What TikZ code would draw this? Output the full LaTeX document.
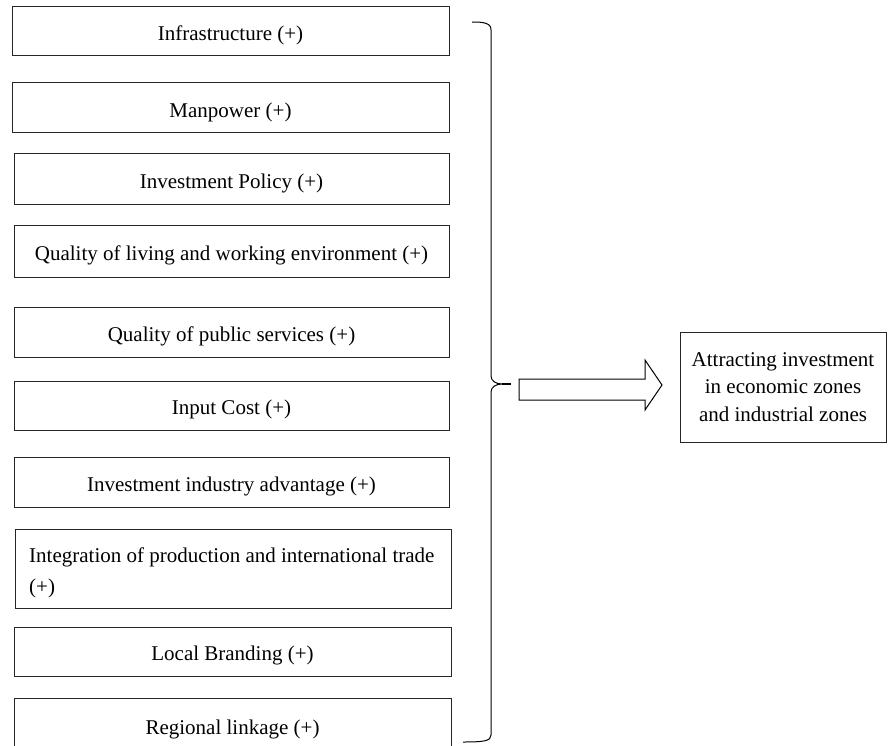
\documentclass[tikz,border=0pt]{standalone}
\usepackage{fontspec}
\setmainfont{Liberation Serif}
\begin{document}
\begin{tikzpicture}[x=1pt,y=-1pt,
  factor/.style={draw=black!85,line width=1pt,rectangle,inner sep=0pt,
    font=\fontsize{21}{26}\selectfont,align=center,text height=22pt,text depth=3.5pt},
  goalbox/.style={draw=black!85,line width=1pt,rectangle,inner sep=0pt,
    font=\fontsize{21}{27.5}\selectfont,align=center},
  lbl/.style={inner sep=0pt,font=\fontsize{21}{31}\selectfont},
  brc/.style={draw=black,line width=1pt}]
\useasboundingbox (0,0) rectangle (888,746);
\clip (0,0) rectangle (888,746);
% factor boxes
\node[factor,minimum width=437pt,minimum height=49pt] (b1) at (230.5,31.5) {Infrastructure (+)};
\node[factor,minimum width=437pt,minimum height=50pt] (b2) at (230.5,108) {Manpower (+)};
\node[factor,minimum width=435pt,minimum height=50pt] (b3) at (231.5,179) {Investment Policy (+)};
\node[factor,minimum width=435pt,minimum height=52pt] (b4) at (231.5,251) {Quality of living and working environment (+)};
\node[factor,minimum width=435pt,minimum height=50pt] (b5) at (231.5,332) {Quality of public services (+)};
\node[factor,minimum width=435pt,minimum height=49pt] (b6) at (231.5,405.5) {Input Cost (+)};
\node[factor,minimum width=435pt,minimum height=50pt] (b7) at (231.5,482) {Investment industry advantage (+)};
\node[factor,minimum width=436pt,minimum height=79pt] (b8) at (233,568.5) {};
\node[lbl,anchor=base west,align=left] (t8) at (29,593) {Integration of production and international trade\\(+)};
\node[factor,minimum width=437pt,minimum height=49pt] (b9) at (232.5,651.5) {Local Branding (+)};
\node[factor,minimum width=437pt,minimum height=54pt] (b10) at (232.5,725) {Regional linkage (+)};
% target box
\node[goalbox,minimum width=206pt,minimum height=110pt] (goal) at (783,387) {Attracting investment\\in economic zones\\and industrial zones};
% brace
\coordinate (btop) at (472,22);
\coordinate (btip) at (502,384);
\coordinate (bbot) at (463,742);
\draw[brc] (btop) .. controls (484,22) and (491,23) .. (491,30) -- (491,376)
  .. controls (491,381) and (496,384) .. (btip)
  .. controls (496,384) and (491,387) .. (491,392) -- (491,735)
  .. controls (491,741) and (484,742) .. (bbot);
\coordinate (dashend) at (511,384);
\draw[line width=2pt] (btip) -- (dashend);
% block arrow
\coordinate (atip) at (662,385);
\draw[line width=1pt] (519,379) -- (645,379) -- (645,360) -- (atip) -- (645,410) -- (645,400) -- (519,400) -- cycle;
\end{tikzpicture}
\end{document}
